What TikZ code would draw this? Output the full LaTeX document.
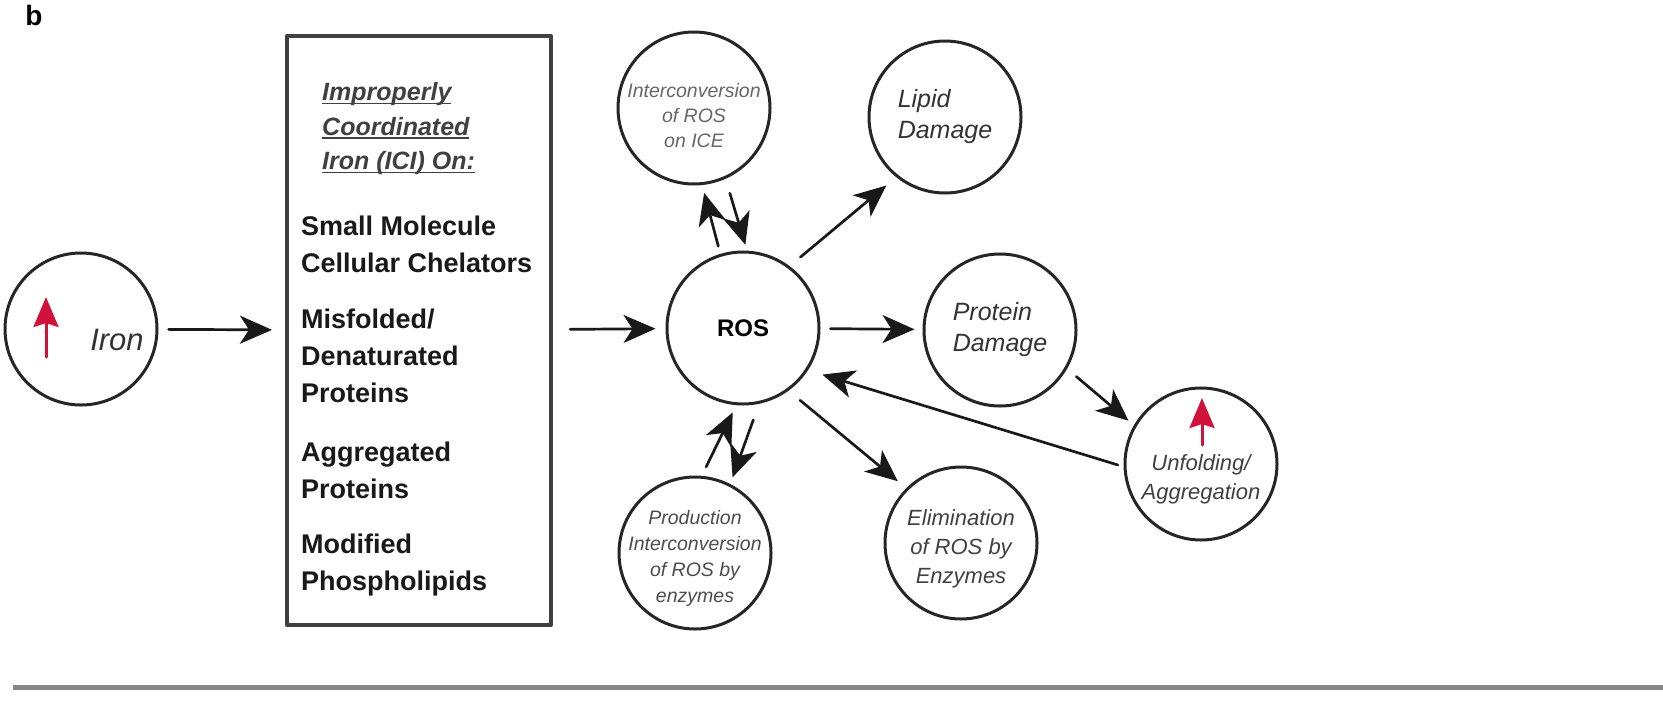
\documentclass[tikz,border=0pt]{standalone}
\usepackage{fontspec}
\setmainfont{Liberation Sans}
\usetikzlibrary{arrows.meta}
\definecolor{ironred}{RGB}{208,18,58}
\newcommand\headline[1]{\setbox0\hbox{#1}\rlap{\rule[-3.5pt]{\wd0}{1.8pt}}\box0}
\tikzset{
  blob/.style={circle, draw=black!85, line width=3pt, minimum size=152pt, inner sep=0pt,
    align=center, text=black!80, font=\fontsize{25}{31}\selectfont\itshape},
  smalltxt/.style={font=\fontsize{19.5}{25}\selectfont\itshape, text=black!60},
  midtxt/.style={font=\fontsize{22}{29}\selectfont\itshape, text=black!75},
  boxtxt/.style={anchor=west, align=left, inner sep=0pt, text=black!90,
    font=\fontsize{27}{37}\selectfont\bfseries},
  listbox/.style={rectangle, draw=black!75, line width=4pt, minimum width=264pt, minimum height=589pt},
  arr/.style={-{Stealth[length=32pt,width=28pt,inset=9pt]}, line width=2.7pt, draw=black!90},
  redup/.style={-{Stealth[length=30pt,width=25pt,inset=4pt]}, line width=3pt, draw=ironred},
  every picture/.style={line cap=round, line join=round}
}

\begin{document}
\begin{tikzpicture}[x=1pt,y=-1pt]
  \useasboundingbox (0,0) rectangle (1663,702);
  \node[font=\fontsize{28}{30}\selectfont\bfseries] (panel) at (34,15) {b};

  % left part
  \node[blob] (iron) at (81,329) {};
  \node[font=\fontsize{31}{33}\selectfont\itshape, text=black!80] (irontxt) at (117,340) {Iron};
  \draw[redup] (iron.center) ++(-35,28) -- ++(0,-60);

  \node[listbox] (ici) at (419,330.5) {};
  \node[boxtxt, font=\fontsize{25}{34.5}\selectfont\bfseries\itshape, text=black!75] (head) at (322,129)
    {\headline{Improperly}\\\headline{Coordinated}\\\headline{Iron (ICI) On:}};
  \node[boxtxt] (chel) at (301,244) {Small Molecule\\Cellular Chelators};
  \node[boxtxt] (misf) at (301,356) {Misfolded/\\Denaturated\\Proteins};
  \node[boxtxt] (aggr) at (301,470) {Aggregated\\Proteins};
  \node[boxtxt] (modi) at (301,565) {Modified\\Phospholipids};

  % ROS and what follows
  \node[blob, font=\fontsize{24}{28}\selectfont\bfseries, text=black] (ros) at (743,328) {ROS};
  \node[blob, smalltxt] (inter) at (694,108) {};
  \node[smalltxt, align=center] (intertxt) at (694,116) {Interconversion\\of ROS\\on ICE};
  \node[blob, align=left] (lipid) at (945,117) {Lipid\\Damage};
  \node[blob, align=left] (protein) at (1000,330) {Protein\\Damage};
  \node[blob] (unfold) at (1201,464) {};
  \node[midtxt, align=center] (unfoldtxt) at (1201,479) {Unfolding/\\Aggregation};
  \draw[redup] (unfold.center) ++(1,-19) -- ++(0,-47);
  \node[blob] (prod) at (695,553) {};
  \node[smalltxt, text=black!70, align=center, font=\fontsize{19.5}{26}\selectfont\itshape] (prodtxt) at (695,558)
    {Production\\Interconversion\\of ROS by\\enzymes};
  \node[blob] (elim) at (961,543) {};
  \node[midtxt, align=center] (elimtxt) at (961,549) {Elimination\\of ROS by\\Enzymes};

  \draw[arr, shorten <=10pt, shorten >=13pt] (iron) -- (ici);
  \draw[arr, shorten <=17pt, shorten >=10pt] (ici) -- (ros);
  \draw[arr, shorten <=10pt, shorten >=8pt] (ros) -- (protein);
  \draw[arr, shorten <=14pt, shorten >=13pt] (ros.53) -- (lipid.231);
  \draw[arr, shorten <=8pt, shorten >=8pt] (ros.107) -- (inter.-84);
  \draw[arr, shorten <=15pt, shorten >=6pt] (inter.-66) -- (ros.87);
  \draw[arr, shorten <=10pt, shorten >=8pt] (prod.85) -- (ros.265);
  \draw[arr, shorten <=17pt, shorten >=7pt] (ros.282) -- (prod.63);
  \draw[arr, shorten <=15pt, shorten >=11pt] (ros.-54) -- (elim.135);
  \draw[arr, shorten <=12pt, shorten >=7pt] (protein.-30) -- (unfold.150);
  \draw[arr, shorten <=6pt, shorten >=15pt] (unfold.182) -- (ros.-33);

  \draw[line width=5pt, line cap=butt, draw=black!47] (13,687) -- (1663,687);
\end{tikzpicture}
\end{document}
